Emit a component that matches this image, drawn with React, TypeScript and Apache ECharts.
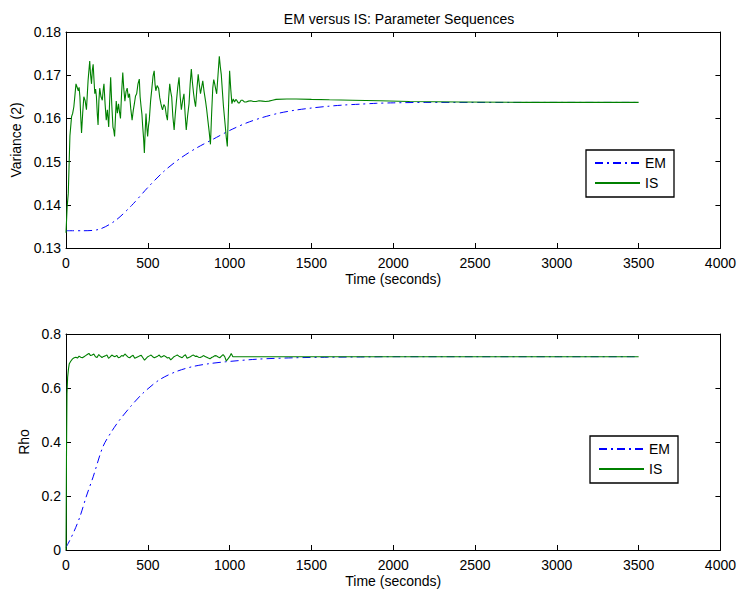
import React, { useEffect, useRef } from "react";
import * as echarts from "echarts";

const TITLE = "EM versus IS: Parameter Sequences";
const X_NAME = "Time (seconds)";
const Y_NAME_TOP = "Variance (2)";
const Y_NAME_BOTTOM = "Rho";
const LEGEND_NAMES = ["EM", "IS"];

// Top panel: EM variance sequence
const emTopT = [0, 100, 200, 300, 400, 500, 600, 700, 800, 900, 1000, 1100, 1200, 1300, 1400, 1500, 1600, 1700, 1800, 1900, 2000, 2200, 2500, 3000, 3500];
const emTopV = [0.134, 0.134, 0.1343, 0.1363, 0.1398, 0.1440, 0.1478, 0.1508, 0.1532, 0.1552, 0.1572, 0.1589, 0.1602, 0.1612, 0.1619, 0.1624, 0.1628, 0.1631, 0.1633, 0.1635, 0.1636, 0.1637, 0.1637, 0.1637, 0.1637];

// Top panel: IS variance sequence
const isTopT = [0, 7, 14, 24, 34, 41, 48, 55, 61, 68, 75, 80, 85, 90, 95, 102, 109, 117, 125, 135, 145, 150, 156, 161, 166, 171, 176, 181, 186, 191, 196, 201, 206, 214, 222, 227, 232, 239, 246, 253, 261, 267, 273, 280, 287, 292, 297, 302, 307, 314, 321, 327, 333, 340, 347, 353, 360, 367, 374, 381, 388, 396, 404, 411, 418, 425, 432, 440, 448, 453, 459, 464, 469, 474, 479, 484, 489, 494, 499, 504, 509, 517, 525, 532, 539, 544, 549, 557, 566, 573, 580, 585, 590, 598, 606, 613, 620, 627, 634, 640, 646, 653, 661, 668, 675, 683, 691, 698, 705, 713, 721, 728, 735, 743, 752, 759, 766, 773, 780, 786, 792, 800, 808, 815, 822, 829, 836, 844, 853, 860, 867, 875, 883, 890, 897, 903, 909, 915, 921, 929, 937, 943, 949, 955, 962, 968, 974, 980, 986, 993, 1000, 1007, 1014, 1022, 1030, 1038, 1045, 1053, 1061, 1070, 1080, 1090, 1101, 1115, 1130, 1145, 1162, 1180, 1200, 1220, 1240, 1262, 1284, 1350, 1406, 1500, 1610, 1750, 1915, 2100, 2400, 2800, 3200, 3500];
const isTopV = [0.1335, 0.1395, 0.1427, 0.1560, 0.1604, 0.1612, 0.1627, 0.1655, 0.1680, 0.1672, 0.1664, 0.1672, 0.1650, 0.1605, 0.1566, 0.1612, 0.1650, 0.1641, 0.1620, 0.1688, 0.1733, 0.1702, 0.1680, 0.1712, 0.1725, 0.1690, 0.1657, 0.1668, 0.1650, 0.1612, 0.1585, 0.1640, 0.1670, 0.1650, 0.1642, 0.1665, 0.1680, 0.1633, 0.1596, 0.1620, 0.1580, 0.1642, 0.1695, 0.1630, 0.1580, 0.1572, 0.1558, 0.1600, 0.1640, 0.1612, 0.1634, 0.1615, 0.1600, 0.1660, 0.1706, 0.1670, 0.1640, 0.1662, 0.1670, 0.1648, 0.1657, 0.1622, 0.1596, 0.1618, 0.1634, 0.1652, 0.1657, 0.1680, 0.1691, 0.1650, 0.1627, 0.1610, 0.1580, 0.1555, 0.1520, 0.1570, 0.1611, 0.1580, 0.1558, 0.1582, 0.1596, 0.1640, 0.1670, 0.1698, 0.1710, 0.1680, 0.1664, 0.1676, 0.1670, 0.1648, 0.1634, 0.1626, 0.1620, 0.1632, 0.1627, 0.1608, 0.1596, 0.1645, 0.1680, 0.1662, 0.1650, 0.1605, 0.1573, 0.1610, 0.1640, 0.1672, 0.1695, 0.1650, 0.1620, 0.1641, 0.1657, 0.1610, 0.1573, 0.1605, 0.1634, 0.1680, 0.1714, 0.1682, 0.1657, 0.1640, 0.1627, 0.1668, 0.1702, 0.1678, 0.1657, 0.1672, 0.1687, 0.1662, 0.1640, 0.1620, 0.1596, 0.1570, 0.1540, 0.1610, 0.1670, 0.1690, 0.1680, 0.1668, 0.1657, 0.1700, 0.1744, 0.1720, 0.1702, 0.1668, 0.1630, 0.1605, 0.1580, 0.1555, 0.1535, 0.1620, 0.1710, 0.1668, 0.1634, 0.1645, 0.1638, 0.1644, 0.1641, 0.1636, 0.1636, 0.1642, 0.1642, 0.1638, 0.1638, 0.1640, 0.1641, 0.1639, 0.1639, 0.1641, 0.1640, 0.1639, 0.1640, 0.1642, 0.1644, 0.1645, 0.1645, 0.1644, 0.1643, 0.1642, 0.1641, 0.1639, 0.1638, 0.1637, 0.1637, 0.1637];

// Bottom panel: EM rho sequence
const emBotT = [0, 14, 50, 85, 125, 166, 226, 280, 327, 400, 469, 570, 670, 772, 874, 974, 1176, 1400, 1600, 1800, 2000, 2500, 3000, 3500];
const emBotV = [0.01, 0.025, 0.07, 0.123, 0.2, 0.271, 0.383, 0.44, 0.481, 0.535, 0.58, 0.63, 0.66, 0.679, 0.69, 0.697, 0.707, 0.712, 0.714, 0.715, 0.716, 0.716, 0.716, 0.716];

// Bottom panel: IS rho sequence
const isBotT = [0, 3, 6, 10, 15, 20, 30, 40, 50, 60, 70, 80, 90, 100, 110, 120, 130, 140, 150, 160, 170, 180, 190, 200, 210, 220, 230, 240, 250, 260, 270, 280, 290, 300, 310, 320, 330, 340, 350, 360, 370, 380, 390, 400, 410, 420, 430, 440, 450, 460, 470, 480, 490, 500, 510, 520, 530, 540, 550, 560, 570, 580, 590, 600, 610, 620, 630, 640, 650, 660, 670, 680, 690, 700, 710, 720, 730, 740, 750, 760, 770, 780, 790, 800, 810, 820, 830, 840, 850, 860, 870, 880, 890, 900, 910, 920, 930, 940, 950, 960, 970, 980, 990, 1000, 1010, 1020, 1100, 3500];
const isBotV = [0, 0.35, 0.58, 0.64, 0.67, 0.69, 0.70, 0.708, 0.712, 0.714, 0.711, 0.718, 0.714, 0.712, 0.716, 0.72, 0.724, 0.728, 0.72, 0.722, 0.726, 0.716, 0.713, 0.724, 0.718, 0.713, 0.717, 0.719, 0.722, 0.71, 0.715, 0.722, 0.718, 0.716, 0.721, 0.712, 0.714, 0.72, 0.718, 0.726, 0.72, 0.714, 0.712, 0.718, 0.721, 0.71, 0.713, 0.716, 0.719, 0.721, 0.712, 0.703, 0.71, 0.716, 0.719, 0.722, 0.716, 0.712, 0.715, 0.718, 0.722, 0.714, 0.717, 0.72, 0.716, 0.711, 0.713, 0.704, 0.71, 0.716, 0.719, 0.722, 0.718, 0.715, 0.712, 0.719, 0.723, 0.71, 0.713, 0.716, 0.72, 0.722, 0.717, 0.718, 0.714, 0.713, 0.716, 0.72, 0.717, 0.714, 0.711, 0.708, 0.713, 0.716, 0.72, 0.719, 0.715, 0.712, 0.718, 0.724, 0.716, 0.70, 0.708, 0.716, 0.728, 0.716, 0.716, 0.716];

const X_TICKS = { min: 0, max: 4000, interval: 500 };
const Y_TOP = { min: 0.13, max: 0.18, interval: 0.01 };
const Y_BOT = { min: 0, max: 0.8, interval: 0.2 };

const FONT = "'Liberation Sans', Arial, Helvetica, sans-serif";
const EM_COLOR = "#0000ff";
const IS_COLOR = "#008000";

const zip = (t: number[], v: number[]) => t.map((x, i) => [x, v[i]]);

export default function App() {
  const ref = useRef<HTMLDivElement>(null);
  useEffect(() => {
    if (!ref.current) return;
    const chart = echarts.init(ref.current, undefined, { renderer: "svg" });
    const axisLine = { show: true, onZero: false, lineStyle: { color: "#000", width: 1 } };
    const tick = { show: true, inside: true, length: 5, lineStyle: { color: "#000" } };
    const label = { color: "#000", fontSize: 14, fontFamily: FONT };
    const mainX = (grid: number) => ({
      type: "value", gridIndex: grid, ...X_TICKS, position: "bottom",
      axisLine, axisTick: tick, splitLine: { show: false },
      axisLabel: { ...label, margin: 8, formatter: (v: number) => String(v) },
      name: X_NAME, nameLocation: "middle", nameGap: 24,
      nameTextStyle: { ...label },
    });
    const mirrorX = (grid: number) => ({
      type: "value", gridIndex: grid, ...X_TICKS, position: "top",
      axisLine, axisTick: tick, splitLine: { show: false }, axisLabel: { show: false },
    });
    const mainY = (grid: number, r: any, name: string, fmt: (v: number) => string, gap: number) => ({
      type: "value", gridIndex: grid, ...r, position: "left",
      axisLine, axisTick: tick, splitLine: { show: false },
      axisLabel: { ...label, margin: 5, formatter: fmt },
      name, nameLocation: "middle", nameGap: gap, nameTextStyle: { ...label },
    });
    const mirrorY = (grid: number, r: any) => ({
      type: "value", gridIndex: grid, ...r, position: "right",
      axisLine, axisTick: tick, splitLine: { show: false }, axisLabel: { show: false },
    });
    const emStyle = { color: EM_COLOR, width: 1, type: [8, 4, 2, 4] };
    const isStyle = { color: IS_COLOR, width: 1.1 };
    const legendBase = {
      orient: "vertical", data: LEGEND_NAMES, selectedMode: false,
      backgroundColor: "#fff", borderColor: "#000", borderWidth: 1.3, borderRadius: 0,
      padding: [6, 8, 7, 8], itemWidth: 45, itemHeight: 14, itemGap: 6,
      itemStyle: { opacity: 0 },
      textStyle: { color: "#000", fontSize: 14, fontFamily: FONT },
    };
    chart.setOption({
      animation: false,
      backgroundColor: "#fff",
      textStyle: { fontFamily: FONT },
      title: {
        text: TITLE, left: 394, top: 7, textAlign: "center",
        textStyle: { color: "#000", fontSize: 14, fontWeight: "normal", fontFamily: FONT },
      },
      legend: [
        { ...legendBase, left: 586, top: 150 },
        { ...legendBase, left: 590, top: 436 },
      ],
      grid: [
        { left: 66, top: 32, width: 656, height: 216 },
        { left: 66, top: 334, width: 656, height: 216 },
      ],
      xAxis: [mainX(0), mirrorX(0), mainX(1), mirrorX(1)],
      yAxis: [
        mainY(0, Y_TOP, Y_NAME_TOP, (v: number) => v.toFixed(2), 42),
        mirrorY(0, Y_TOP),
        mainY(1, Y_BOT, Y_NAME_BOTTOM, (v: number) => (v === 0 ? "0" : v.toFixed(1)), 34),
        mirrorY(1, Y_BOT),
      ],
      series: [
        { name: "EM", type: "line", xAxisIndex: 0, yAxisIndex: 0, data: zip(emTopT, emTopV), symbol: "none", smooth: 0.3, lineStyle: emStyle, itemStyle: { color: EM_COLOR } },
        { name: "IS", type: "line", xAxisIndex: 0, yAxisIndex: 0, data: zip(isTopT, isTopV), symbol: "none", lineStyle: isStyle, itemStyle: { color: IS_COLOR } },
        { name: "EM", type: "line", xAxisIndex: 2, yAxisIndex: 2, data: zip(emBotT, emBotV), symbol: "none", smooth: 0.3, lineStyle: emStyle, itemStyle: { color: EM_COLOR } },
        { name: "IS", type: "line", xAxisIndex: 2, yAxisIndex: 2, data: zip(isBotT, isBotV), symbol: "none", lineStyle: isStyle, itemStyle: { color: IS_COLOR } },
      ],
    });
    return () => chart.dispose();
  }, []);
  return <div ref={ref} style={{ position: "absolute", left: 0, top: 0, width: 739, height: 592 }} />;
}
